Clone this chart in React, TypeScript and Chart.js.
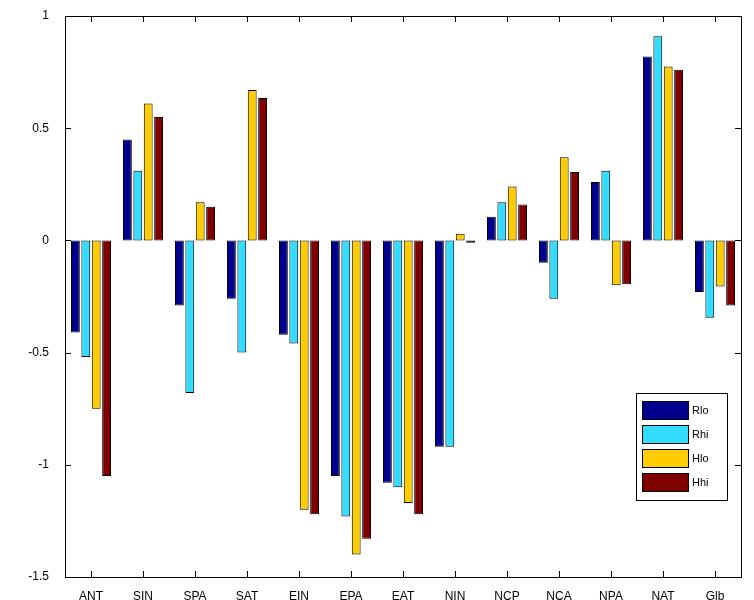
import React, { useRef, useEffect } from "react";
import Chart from "chart.js/auto";

const categories = ["ANT", "SIN", "SPA", "SAT", "EIN", "EPA", "EAT", "NIN", "NCP", "NCA", "NPA", "NAT", "Glb"];
const rlo = [-0.41, 0.45, -0.29, -0.26, -0.42, -1.05, -1.08, -0.92, 0.105, -0.1, 0.26, 0.82, -0.23];
const rhi = [-0.52, 0.31, -0.68, -0.5, -0.46, -1.23, -1.1, -0.92, 0.17, -0.26, 0.31, 0.91, -0.345];
const hlo = [-0.75, 0.61, 0.17, 0.67, -1.2, -1.4, -1.17, 0.03, 0.24, 0.37, -0.2, 0.775, -0.205];
const hhi = [-1.05, 0.55, 0.15, 0.635, -1.22, -1.33, -1.22, -0.01, 0.16, 0.305, -0.195, 0.76, -0.29];
const seriesNames = ["Rlo", "Rhi", "Hlo", "Hhi"];
const colors = ["#00008f", "#33ddff", "#ffcc00", "#800000"];

const App = () => {
  const ref = useRef<HTMLCanvasElement>(null);
  const inst = useRef<Chart>();

  useEffect(() => {
    document.body.style.margin = "0";
    if (inst.current) inst.current.destroy();
    const frame = {
      id: "frame",
      afterDraw(chart: any) {
        const { ctx, chartArea: a, scales } = chart;
        ctx.save();
        ctx.strokeStyle = "#000";
        ctx.lineWidth = 1;
        ctx.strokeRect(a.left + 0.5, a.top + 0.5, a.right - a.left, a.bottom - a.top);
        ctx.beginPath();
        scales.y.ticks.forEach((t: any) => {
          const y = Math.round(scales.y.getPixelForValue(t.value)) + 0.5;
          ctx.moveTo(a.left, y); ctx.lineTo(a.left + 6, y);
          ctx.moveTo(a.right, y); ctx.lineTo(a.right - 6, y);
        });
        categories.forEach((_, i) => {
          const x = Math.round(scales.x.getPixelForValue(i)) + 0.5;
          ctx.moveTo(x, a.bottom); ctx.lineTo(x, a.bottom - 6);
          ctx.moveTo(x, a.top); ctx.lineTo(x, a.top + 6);
        });
        ctx.stroke();
        // legend
        const lx = 636, ly = 393, lw = 91, lh = 107;
        ctx.fillStyle = "#fff";
        ctx.fillRect(lx, ly, lw, lh);
        ctx.strokeRect(lx + 0.5, ly + 0.5, lw, lh);
        ctx.font = "11px 'Liberation Sans', Arial, sans-serif";
        ctx.textBaseline = "middle";
        seriesNames.forEach((n, i) => {
          const y = ly + 8 + i * 24;
          ctx.fillStyle = colors[i];
          ctx.fillRect(lx + 6, y, 46, 18);
          ctx.strokeRect(lx + 6.5, y + 0.5, 46, 18);
          ctx.fillStyle = "#000";
          ctx.fillText(n, lx + 56, y + 10);
        });
        ctx.restore();
      },
    };
    inst.current = new Chart(ref.current!, {
      type: "bar",
      data: {
        labels: categories,
        datasets: [rlo, rhi, hlo, hhi].map((d, i) => ({
          label: seriesNames[i],
          data: d,
          backgroundColor: colors[i],
          borderColor: "#000",
          borderWidth: 1,
          borderSkipped: false,
          categoryPercentage: 0.8,
          barPercentage: 0.85,
        })),
      },
      options: {
        responsive: false,
        animation: false,
        layout: { padding: { top: 16, right: 13, left: 0, bottom: 0 } },
        plugins: { legend: { display: false }, tooltip: { enabled: false } },
        scales: {
          x: {
            grid: { display: false },
            border: { display: false },
            ticks: { color: "#000", font: { size: 12, family: "'Liberation Sans', Arial" }, maxRotation: 0, padding: 4 },
            afterFit: (s: any) => { s.height = 23; },
          },
          y: {
            min: -1.5,
            max: 1,
            grid: { display: false },
            border: { display: false },
            ticks: {
              stepSize: 0.5,
              color: "#000",
              font: { size: 12, family: "'Liberation Sans', Arial" },
              padding: 8,
              callback: (v: any) => String(Number(v)),
            },
            afterFit: (s: any) => { s.width = 65; },
          },
        },
      },
      plugins: [frame],
    });
    return () => { inst.current?.destroy(); };
  }, []);

  return <canvas ref={ref} width={754} height={600} style={{ display: "block", background: "#fff" }} />;
};

export default App;
